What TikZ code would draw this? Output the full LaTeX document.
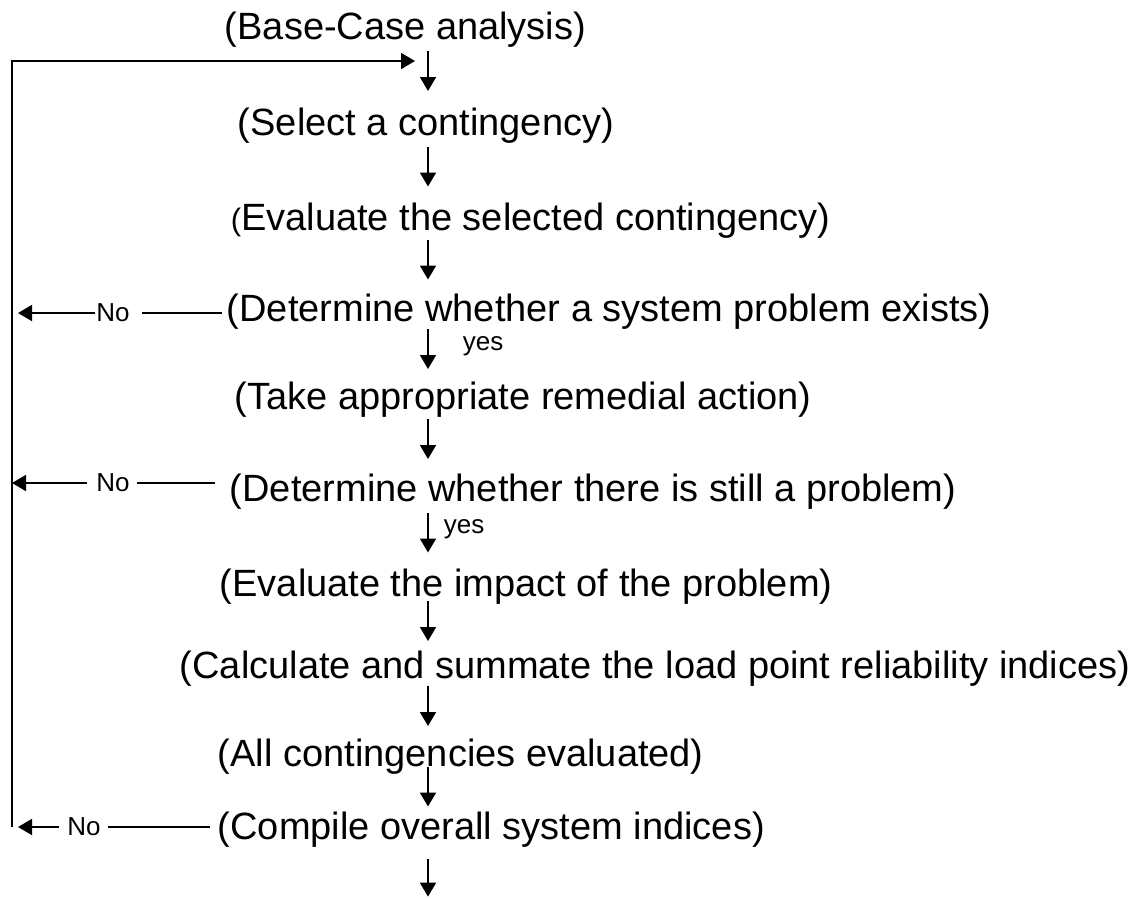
\documentclass[tikz,border=0pt]{standalone}
\usepackage{fontspec}
\setmainfont{Liberation Sans}
\usetikzlibrary{arrows.meta,calc}

\begin{document}
\begin{tikzpicture}[x=1pt, y=-1pt, line width=1.8pt, >={Triangle[length=14pt,width=16pt]},
	stepnode/.style={anchor=west, inner sep=0pt, font=\fontsize{38}{40}\selectfont},
	tagnode/.style={inner sep=0pt, font=\fontsize{26}{28}\selectfont}]
		\useasboundingbox (0,0) rectangle (1132,898);
		\coordinate (spine) at (428,0);
		\coordinate (rail) at (12,61);
		\coordinate (entry) at (415,61);
		\node[stepnode] (base) at (224,30) {(Base-Case analysis)};
		\node[stepnode] (select) at (237,126) {(Select a contingency)};
		\node[stepnode] (evalsel) at (230,221) {{\fontsize{31}{31}\selectfont(}Evaluate the selected contingency)};
		\node[stepnode] (chksys) at (226,312) {(Determine whether a system problem exists)};
		\node[stepnode] (remedy) at (234,400) {(Take appropriate remedial action)};
		\node[stepnode] (chkstill) at (229,492) {(Determine whether there is still a problem)};
		\node[stepnode] (impact) at (219,587) {(Evaluate the impact of the problem)};
		\node[stepnode] (indices) at (179,669) {(Calculate and summate the load point reliability indices)};
		\node[stepnode] (allcont) at (217,757) {(All contingencies evaluated)};
		\node[stepnode] (compile) at (217,830) {(Compile overall system indices)};
		\node[tagnode, anchor=west] (yesA) at (462,346) {yes};
		\node[tagnode, anchor=west] (yesB) at (443,529) {yes};
		\node[tagnode] (noA) at (113,313) {No};
		\node[tagnode] (noB) at (113,483) {No};
		\node[tagnode] (noC) at (84,827) {No};
		\foreach \a/\b in {base/select, select/evalsel, evalsel/chksys, chksys/remedy, remedy/chkstill, chkstill/impact, impact/indices, indices/allcont, allcont/compile}
			\draw[->] ($(spine |- \a.south)!.5!(spine |- \b.north) + (0,-27)$) -- ++(0,40);
		\draw[->] ([yshift=-10pt]spine |- compile.south) -- ++(0,38);
		\draw[->] (rail |- noC) -- (rail) -- (entry);
		\draw[shorten <=4pt, shorten >=11pt] (chksys.west |- noA) -- (noA.east);
		\draw[->, shorten >=6pt] (noA.west) -- (rail |- noA);
		\draw[shorten <=14pt, shorten >=6pt] (chkstill.west |- noB) -- (noB.east);
		\draw[->, shorten <=8pt] (noB.west) -- (rail |- noB);
		\draw[shorten <=7pt, shorten >=6pt] (compile.west |- noC) -- (noC.east);
		\draw[->, shorten <=7pt, shorten >=6pt] (noC.west) -- (rail |- noC);
	\end{tikzpicture}
\end{document}
